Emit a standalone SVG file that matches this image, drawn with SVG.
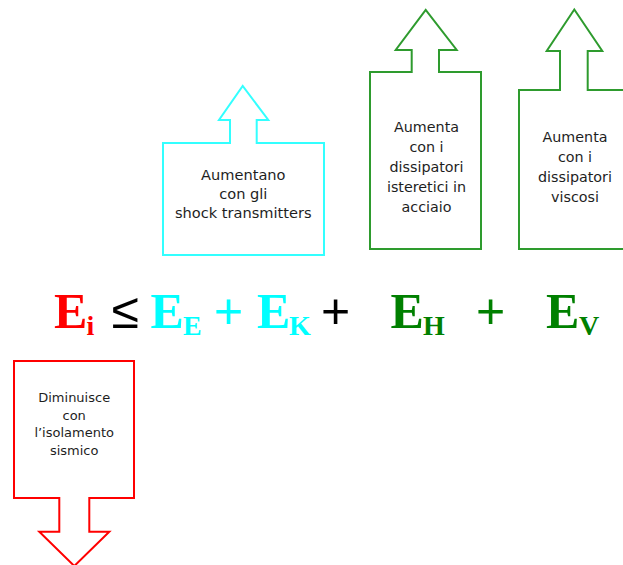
<svg xmlns="http://www.w3.org/2000/svg" width="623" height="565" viewBox="0 0 623 565">
<style>
.shape{fill:#fff;stroke-width:2;stroke-linejoin:miter}
.lbl{font-family:"DejaVu Sans",Verdana,sans-serif;fill:#1e1e1e;text-anchor:middle}
.big{font-family:"Liberation Serif","Times New Roman",serif;font-weight:bold;font-size:50px}
.sub{font-family:"Liberation Serif","Times New Roman",serif;font-weight:bold;font-size:28px}
.op{font-family:"Liberation Sans",Arial,sans-serif;font-size:50px}
</style>
<rect width="623" height="565" fill="#fff"/>
<g id="node-ek">
<path class="shape" stroke="#33FFFF" d="M163,143 H230 V120 H219 L242.7,86 L268.3,120 H256.7 V143 H324 V255 H163 Z"/>
<text class="lbl" font-size="14.6" x="243.3" y="180">Aumentano</text>
<text class="lbl" font-size="14.6" x="243.3" y="199">con gli</text>
<text class="lbl" font-size="14.6" x="243.3" y="218">shock transmitters</text>
</g>
<g id="node-eh">
<path class="shape" stroke="#2E9B2E" d="M370,72 H411.7 V50 H395.7 L425.7,10 L456.7,50 H439 V72 H481 V249 H370 Z"/>
<text class="lbl" font-size="14.3" x="426.5" y="132">Aumenta</text>
<text class="lbl" font-size="14.3" x="426.5" y="152">con i</text>
<text class="lbl" font-size="14.3" x="426.5" y="172">dissipatori</text>
<text class="lbl" font-size="14.3" x="426.5" y="192">isteretici in</text>
<text class="lbl" font-size="14.3" x="426.5" y="212">acciaio</text>
</g>
<g id="node-ev">
<path class="shape" stroke="#2E9B2E" d="M519,90 H560 V51 H546.7 L574.3,9.5 L602.3,51 H587.7 V90 H630 V249 H519 Z"/>
<text class="lbl" font-size="14.3" x="575" y="142">Aumenta</text>
<text class="lbl" font-size="14.3" x="575" y="162">con i</text>
<text class="lbl" font-size="14.3" x="575" y="182">dissipatori</text>
<text class="lbl" font-size="14.3" x="575" y="202">viscosi</text>
</g>
<g id="node-ei">
<path class="shape" stroke="#FF0000" d="M14,361 H134 V498 H89.3 V531.7 H109.3 L74.3,566 L39.3,531.7 H59.3 V498 H14 Z"/>
<text class="lbl" font-size="13" x="74.2" y="402">Diminuisce</text>
<text class="lbl" font-size="13" x="74.2" y="419.5">con</text>
<text class="lbl" font-size="13" x="74.2" y="437">l’isolamento</text>
<text class="lbl" font-size="13" x="74.2" y="455">sismico</text>
</g>
<g id="equation">
<text class="big" fill="#FF0000" x="54" y="328">E</text>
<text class="sub" fill="#FF0000" x="86.5" y="335">i</text>
<text class="op" fill="#000" x="111.5" y="328">≤</text>
<text class="big" fill="#00FFFF" x="150.5" y="328">E</text>
<text class="sub" fill="#00FFFF" x="183" y="335">E</text>
<text class="op" fill="#00FFFF" x="214" y="328">+</text>
<text class="big" fill="#00FFFF" x="257" y="328">E</text>
<text class="sub" fill="#00FFFF" x="289" y="335">K</text>
<text class="op" fill="#000" x="321" y="328">+</text>
<text class="big" fill="#008000" x="390.5" y="328">E</text>
<text class="sub" fill="#008000" x="423" y="335">H</text>
<text class="op" fill="#008000" x="476" y="328">+</text>
<text class="big" fill="#008000" x="546" y="328">E</text>
<text class="sub" fill="#008000" x="579" y="335">V</text>
</g>
</svg>
